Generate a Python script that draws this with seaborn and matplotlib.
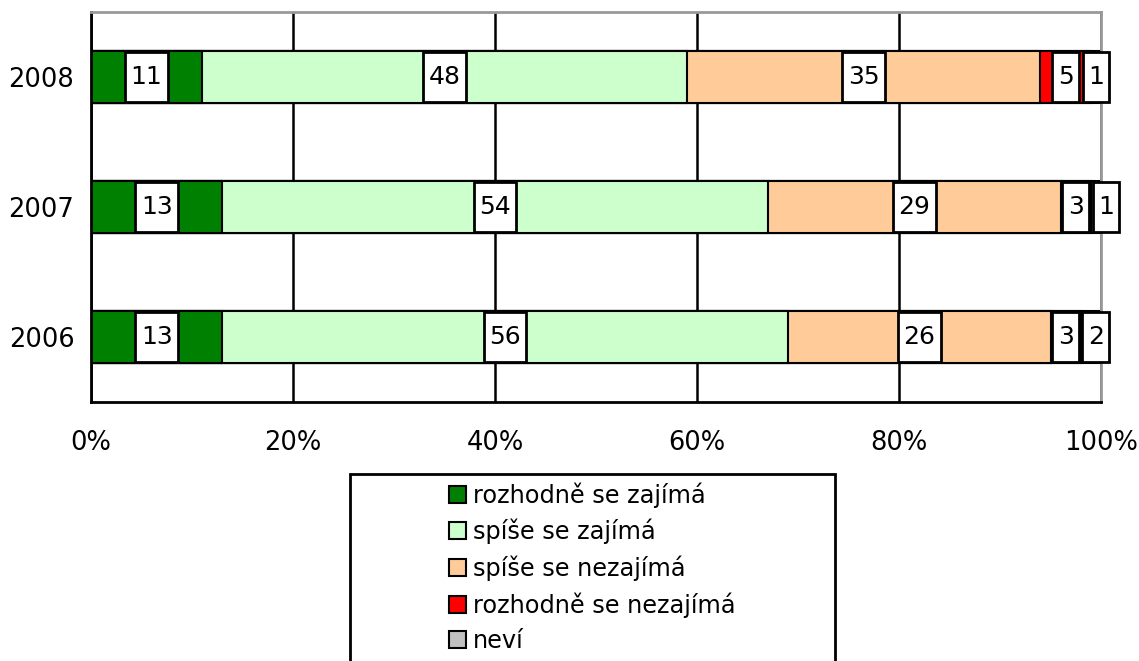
import numpy as np
import pandas as pd
import matplotlib
matplotlib.use("Agg")
import matplotlib.pyplot as plt
import matplotlib.patches as mpatches
from matplotlib.ticker import PercentFormatter, FixedLocator
import seaborn as sns

# Data
roky = ["2008", "2007", "2006"]
kategorie = ["rozhodně se zajímá", "spíše se zajímá", "spíše se nezajímá",
             "rozhodně se nezajímá", "neví"]
rozhodne_ano = [11, 13, 13]
spise_ano = [48, 54, 56]
spise_ne = [35, 29, 26]
rozhodne_ne = [5, 3, 3]
nevi = [1, 1, 2]

barvy = ["#008000", "#ccffcc", "#ffcc99", "#ff0000", "#c0c0c0"]

sns.set_style("white")
plt.rcParams["font.family"] = ["DejaVu Sans"]
plt.rcParams["text.color"] = "black"
plt.rcParams["xtick.color"] = "black"
plt.rcParams["ytick.color"] = "black"
FS = 18
FS_TICK = 18.5

df = pd.DataFrame({
    "rok": roky,
    kategorie[0]: rozhodne_ano,
    kategorie[1]: spise_ano,
    kategorie[2]: spise_ne,
    kategorie[3]: rozhodne_ne,
    kategorie[4]: nevi,
})
hodnoty = df[kategorie].to_numpy(dtype=float)
kum = np.cumsum(hodnoty, axis=1)

fig = plt.figure(figsize=(11.39, 6.61), dpi=100)
W, H = 1139, 661
ax = fig.add_axes([91 / W, 1 - 402 / H, (1101 - 91) / W, (402 - 12) / H])

# stacked bars: draw cumulative sums from the last category backwards
for i in range(len(kategorie) - 1, -1, -1):
    sns.barplot(x=kum[:, i], y=df["rok"], order=roky, orient="h",
                color=barvy[i], width=0.4, edgecolor="black", linewidth=1.5,
                saturation=1, ax=ax)

# value labels (white boxes), pushed apart when crowded
for r in range(len(roky)):
    starts = kum[r] - hodnoty[r]
    centers = starts + hodnoty[r] / 2
    pos = list(centers)
    for i in range(1, len(pos)):
        if pos[i] - pos[i - 1] < 3.0:
            pos[i] = pos[i - 1] + 3.0
    for i in range(len(kategorie)):
        ax.text(pos[i], r, f"{int(hodnoty[r, i])}", ha="center", va="center",
                fontsize=FS, color="black", zorder=5,
                bbox=dict(boxstyle="square,pad=0.22", mutation_aspect=2.3,
                          facecolor="white", edgecolor="black", linewidth=2))

ax.set_xlim(0, 100)
ax.set_ylim(2.5, -0.5)
ax.xaxis.set_major_formatter(PercentFormatter(xmax=100, decimals=0))
ax.set_xticks([0, 20, 40, 60, 80, 100])
ax.grid(axis="x", color="black", linewidth=1.8, zorder=0)
ax.set_axisbelow(True)
ax.set_xlabel("")
ax.set_ylabel("")

# ticks at category boundaries
ax.yaxis.set_minor_locator(FixedLocator([-0.5, 0.5, 1.5, 2.5]))
ax.tick_params(axis="y", which="major", length=0, labelsize=FS_TICK, pad=12)
ax.tick_params(axis="y", which="minor", length=8, width=2, direction="out", color="black")
ax.tick_params(axis="x", which="major", length=8, width=2, direction="out",
               color="black", labelsize=FS_TICK, pad=12)

for s in ["left", "bottom"]:
    ax.spines[s].set_color("black")
    ax.spines[s].set_linewidth(2)
for s in ["top", "right"]:
    ax.spines[s].set_color("#999999")
    ax.spines[s].set_linewidth(2)

# legend with frame
fig.patches.append(mpatches.Rectangle((350 / W, 1 - 680 / H), (835 - 350) / W, (680 - 474) / H,
                                      transform=fig.transFigure, facecolor="white",
                                      edgecolor="black", linewidth=2))
handles = [mpatches.Patch(facecolor=c, edgecolor="black", linewidth=1.5, label=k)
           for c, k in zip(barvy, kategorie)]
fig.legend(handles=handles, loc="upper left", bbox_to_anchor=(449 / W, 1 - 482 / H),
           frameon=False, fontsize=17.3, handlelength=0.7, handleheight=0.7,
           handletextpad=0.3, labelspacing=0.47, borderpad=0, borderaxespad=0)

fig.savefig("out.png", dpi=100)
